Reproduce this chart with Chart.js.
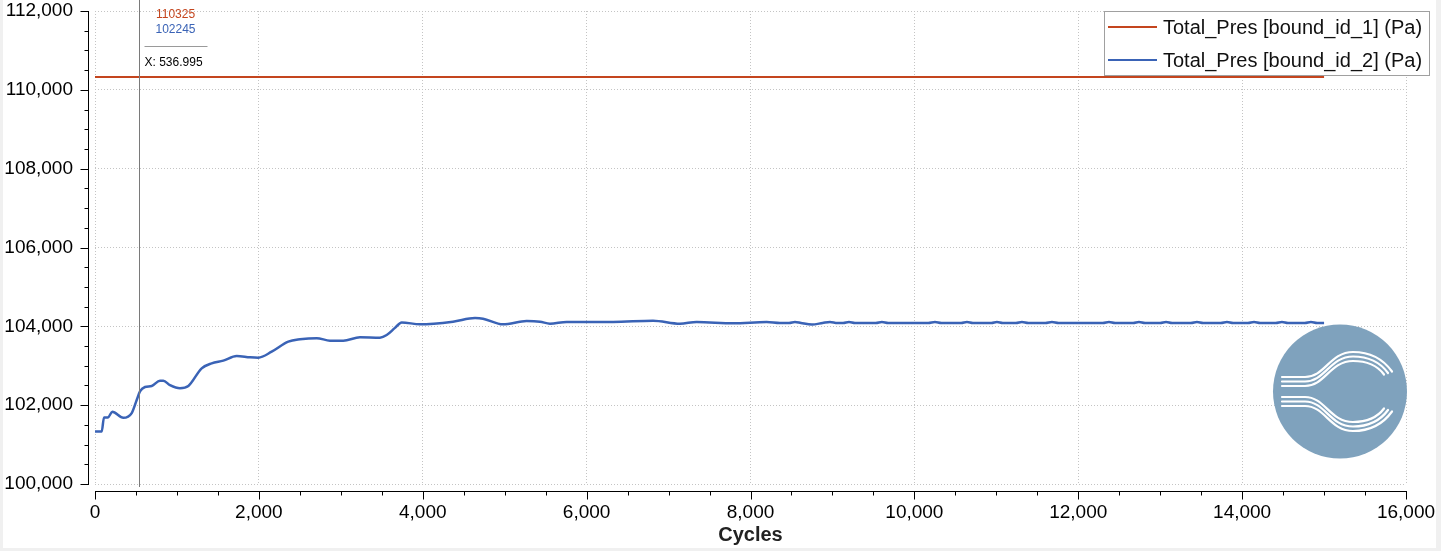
<!DOCTYPE html>
<html><head><meta charset="utf-8">
<script src="https://cdn.jsdelivr.net/npm/chart.js@4.4.1/dist/chart.umd.min.js"></script>
<style>html,body{margin:0;padding:0;background:#f0f0f0;overflow:hidden}canvas{display:block}</style>
</head><body>
<canvas id="c" width="1441" height="551"></canvas>
<script>
const seriesNames = ['Total_Pres [bound_id_1] (Pa)', 'Total_Pres [bound_id_2] (Pa)'];
const seriesColors = ['#c4451e', '#3a63b6'];

const cycles1 = [0, 15000];
const pres1 = [110325, 110325];

const cycles2 = [0, 82, 110, 159, 211, 345, 448, 509, 549, 610, 692, 793, 834, 915, 1037, 1139, 1302, 1424, 1566, 1729, 1892, 1993, 2156, 2359, 2502, 2706, 2868, 3030, 3234, 3478, 3560, 3661, 3743, 3966, 4369, 4638, 4735, 4979, 5268, 5431, 5553, 5757, 6322, 6810, 7139, 7343, 7790, 8197, 8360,
  8470, 8543, 8616, 8750, 8880, 8970, 9060, 9130, 9202, 9275, 9530, 9604, 9680, 10170, 10251, 10330, 10570, 10642, 10715, 10940, 11008, 11080, 11240, 11313, 11390, 11600, 11679, 11760, 12300, 12375, 12450, 12670, 12741, 12815, 13000, 13071, 13145, 13375, 13449, 13525, 13740, 13815, 13890, 14070, 14145, 14220, 14410, 14486, 14560, 14765, 14840, 14915, 15000];
const pres2 = [101330, 101330, 101690, 101690, 101834, 101680, 101800, 102130, 102350, 102460, 102486, 102620, 102620, 102510, 102430, 102486, 102935, 103060, 103130, 103250, 103215, 103205, 103356, 103610, 103670, 103700, 103636, 103636, 103722, 103712, 103780, 103960, 104100, 104050, 104118, 104210, 104194, 104050, 104135, 104118, 104067, 104110, 104110, 104143, 104067, 104110, 104077, 104110, 104085,
  104085, 104112, 104085, 104045, 104085, 104112, 104085, 104085, 104112, 104085, 104085, 104112, 104085, 104085, 104112, 104085, 104085, 104112, 104085, 104085, 104112, 104085, 104085, 104112, 104085, 104085, 104112, 104085, 104085, 104112, 104085, 104085, 104112, 104085, 104085, 104112, 104085, 104085, 104112, 104085, 104085, 104112, 104085, 104085, 104112, 104085, 104085, 104112, 104085, 104085, 104112, 104085, 104085];

const xTickValues = [0, 2000, 4000, 6000, 8000, 10000, 12000, 14000, 16000];
const xTickLabels = ['0', '2,000', '4,000', '6,000', '8,000', '10,000', '12,000', '14,000', '16,000'];
const yTickValues = [100000, 102000, 104000, 106000, 108000, 110000, 112000];
const yTickLabels = ['100,000', '102,000', '104,000', '106,000', '108,000', '110,000', '112,000'];
const xTitle = 'Cycles';
const minorStep = 500;

const cursorX = 536.995;
const cursorValues = ['110325', '102245'];
const cursorLabel = 'X: 536.995';

const FONT = 'Liberation Sans';

const bgPlugin = {
  id: 'bg',
  beforeDraw(chart) {
    const c = chart.ctx;
    c.save();
    c.fillStyle = '#f0f0f0';
    c.fillRect(0, 0, chart.width, chart.height);
    c.fillStyle = '#ffffff';
    c.fillRect(3, 0, 1433, 548);
    c.restore();
  }
};

const axesPlugin = {
  id: 'axesLines',
  afterDraw(chart) {
    const c = chart.ctx, xs = chart.scales.x, ys = chart.scales.y, a = chart.chartArea;
    c.save();
    c.strokeStyle = '#000';
    c.lineWidth = 1;
    const ax = a.left - 7 + 0.5;   // y axis line
    const ay = a.bottom + 7 + 0.5; // x axis line
    c.beginPath();
    c.moveTo(ax, a.top); c.lineTo(ax, a.bottom + 1);
    c.moveTo(a.left, ay); c.lineTo(a.right + 1, ay);
    // y ticks
    for (let v = ys.min; v <= ys.max + 1e-6; v += minorStep) {
      const p = Math.round(ys.getPixelForValue(v)) + 0.5;
      const major = yTickValues.includes(v);
      c.moveTo(ax - (major ? 8 : 4), p); c.lineTo(ax, p);
    }
    for (let v = xs.min; v <= xs.max + 1e-6; v += minorStep) {
      const p = Math.round(xs.getPixelForValue(v)) + 0.5;
      const major = xTickValues.includes(v);
      c.moveTo(p, ay); c.lineTo(p, ay + (major ? 8 : 4));
    }
    c.stroke();
    c.restore();
  }
};

const overlayPlugin = {
  id: 'overlay',
  afterDatasetsDraw(chart) {
    const c = chart.ctx, xs = chart.scales.x, a = chart.chartArea;
    c.save();
    // cursor line
    const cx = Math.round(xs.getPixelForValue(cursorX)) + 0.5;
    c.strokeStyle = '#7a7a7a';
    c.lineWidth = 1;
    c.beginPath(); c.moveTo(cx, 0); c.lineTo(cx, a.bottom + 3); c.stroke();
    // cursor labels
    c.font = '12px "' + FONT + '"';
    c.textBaseline = 'middle';
    c.textAlign = 'center';
    cursorValues.forEach((t, i) => {
      c.fillStyle = seriesColors[i];
      c.fillText(t, cx + 36, 15 + i * 15);
    });
    c.strokeStyle = '#9a9a9a';
    c.beginPath(); c.moveTo(cx + 5, 46.5); c.lineTo(cx + 68, 46.5); c.stroke();
    c.fillStyle = '#000';
    c.textAlign = 'left';
    c.fillText(cursorLabel, cx + 5, 62.5);

    // legend box
    const lx = 1104.5, ly = 11.5, lw = 325, lh = 64;
    c.fillStyle = '#ffffff';
    c.fillRect(lx, ly, lw, lh);
    c.strokeStyle = '#a0a0a0';
    c.strokeRect(lx, ly, lw, lh);
    c.font = '20px "' + FONT + '"';
    c.textAlign = 'left';
    c.textBaseline = 'middle';
    chart.data.datasets.forEach((ds, i) => {
      const yy = 27 + i * 33;
      c.strokeStyle = ds.borderColor;
      c.lineWidth = 2;
      c.beginPath(); c.moveTo(1108, yy); c.lineTo(1157, yy); c.stroke();
      c.fillStyle = '#111';
      c.fillText(ds.label, 1163, yy + 1);
    });

    // logo
    const ox = 1340, oy = 391.5, r = 67;
    c.fillStyle = '#7fa2bd';
    c.beginPath(); c.arc(ox, oy, r, 0, Math.PI * 2); c.fill();
    c.strokeStyle = '#ffffff';
    c.lineWidth = 2.2;
    c.lineCap = 'round';
    for (const sgn of [-1, 1]) {
      for (let k = 0; k < 3; k++) {
        const d = 14.5 - k * 4.5; // distance from center at left
        const y0 = oy + sgn * d;
        const peak = oy + sgn * (39.5 - k * 4.5);
        const endX = 1392 - k * 4;
        const endY = oy + sgn * (20 - k * 1.5);
        c.beginPath();
        c.moveTo(1282, y0);
        c.lineTo(1305, y0);
        c.bezierCurveTo(1325, y0, 1330, peak, 1353, peak);
        c.quadraticCurveTo(1378 - k * 2, peak, endX, endY);
        c.stroke();
      }
    }
    c.restore();
  }
};

const tickFont = { family: FONT, size: 19 };

new Chart(document.getElementById('c').getContext('2d'), {
  type: 'scatter',
  data: {
    datasets: [
      { label: seriesNames[0], data: cycles1.map((x, i) => ({ x, y: pres1[i] })), showLine: true,
        borderColor: seriesColors[0], backgroundColor: seriesColors[0], borderWidth: 2, pointRadius: 0, fill: false },
      { label: seriesNames[1], data: cycles2.map((x, i) => ({ x, y: pres2[i] })), showLine: true,
        borderColor: seriesColors[1], backgroundColor: seriesColors[1], borderWidth: 2.5, pointRadius: 0, fill: false,
        cubicInterpolationMode: 'monotone' }
    ]
  },
  options: {
    responsive: false,
    animation: false,
    devicePixelRatio: 1,
    layout: { padding: { left: 0, top: 11, right: 35, bottom: 0 } },
    plugins: { legend: { display: false }, tooltip: { enabled: false } },
    scales: {
      x: {
        type: 'linear', min: 0, max: 16000,
        afterBuildTicks: s => { s.ticks = xTickValues.map(v => ({ value: v })); },
        ticks: { callback: (v) => xTickLabels[xTickValues.indexOf(v)], font: tickFont, color: '#000', padding: 17, maxRotation: 0, autoSkip: false },
        grid: { color: '#c4c4c4', lineWidth: 1, drawTicks: false },
        border: { display: false, dash: [1, 2] },
        title: { display: true, text: xTitle, font: { family: FONT, size: 20, weight: 'bold' }, color: '#222', padding: { top: 0, bottom: 4 } },
        afterFit: s => { s.height = 67; s.paddingLeft = 0; s.paddingRight = 0; }
      },
      y: {
        type: 'linear', min: 100000, max: 112000,
        afterBuildTicks: s => { s.ticks = yTickValues.map(v => ({ value: v })); },
        ticks: { callback: (v) => yTickLabels[yTickValues.indexOf(v)], font: tickFont, color: '#000', padding: 22, autoSkip: false },
        grid: { color: '#c4c4c4', lineWidth: 1, drawTicks: false },
        border: { display: false, dash: [1, 2] },
        afterFit: s => { s.width = 95; s.paddingTop = 0; s.paddingBottom = 0; }
      }
    }
  },
  plugins: [bgPlugin, axesPlugin, overlayPlugin]
});
</script>
</body></html>
